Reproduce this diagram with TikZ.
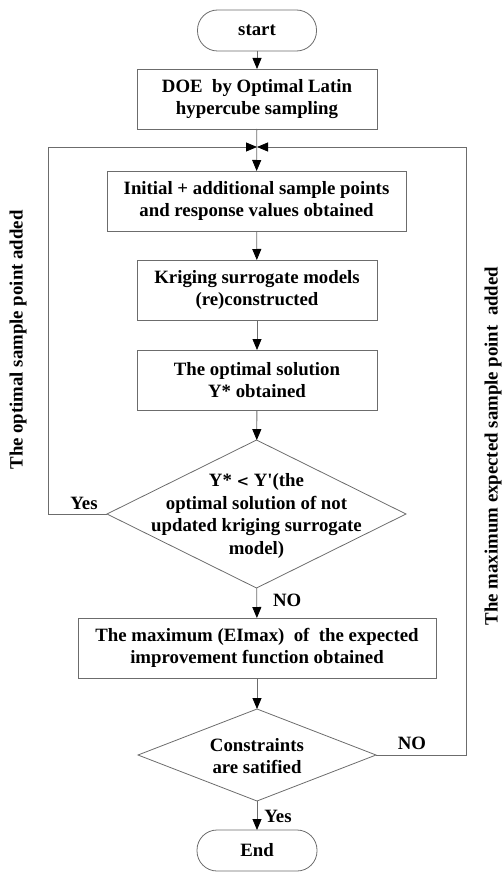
\documentclass[tikz,border=0pt]{standalone}
\usepackage{fontspec}
\setmainfont{Liberation Serif}
\usetikzlibrary{shapes.geometric,arrows.meta}
\tikzset{
  every node/.style={font=\bfseries\fontsize{18.8}{22.5}\selectfont, inner sep=0pt, outer sep=0pt},
  boxnode/.style={draw=gray!85!black, line width=0.8pt, rectangle, align=center},
  termnode/.style={draw=gray!85!black, line width=0.8pt, rectangle, rounded corners=20pt, align=center},
  decnode/.style={draw=gray!85!black, line width=0.8pt, diamond},
  txt/.style={align=center},
  arr/.style={draw=gray!85!black, line width=0.8pt, -{Triangle[length=11pt,width=9pt,color=black]}},
  ln/.style={draw=gray!85!black, line width=0.8pt}
}
\begin{document}
\begin{tikzpicture}[x=1pt,y=-1pt]
\useasboundingbox (0,0) rectangle (501,872);
\node[termnode, minimum width=119pt, minimum height=41pt] (start) at (257,30.5) {start};
\node[boxnode, minimum width=240pt, minimum height=60pt] (doe) at (257,99) {DOE\ \ by Optimal Latin\\ hypercube sampling};
\node[boxnode, minimum width=299pt, minimum height=60pt] (init) at (256.5,201) {Initial + additional sample points\\and response values obtained};
\node[boxnode, minimum width=240pt, minimum height=60pt] (krig) at (257,290) {Kriging surrogate models\\(re)constructed};
\node[boxnode, minimum width=240pt, minimum height=60pt] (opt) at (257,380) {The optimal solution\\Y* obtained};
\node[decnode, minimum width=299pt, minimum height=148pt] (d1) at (256.5,514) {};
\node[txt] (d1t) at (256.5,516) {Y* {\fontspec{DejaVu Serif}\bfseries\fontsize{15}{22.5}\selectfont <} Y\textquotesingle(the\\optimal solution of not\\updated kriging surrogate\\model)};
\node[boxnode, minimum width=358pt, minimum height=60pt] (ei) at (257,648) {The maximum (EImax)\ \ of\ \ the expected\\improvement function obtained};
\node[decnode, minimum width=238pt, minimum height=92pt] (d2) at (257,755) {};
\node[txt] (d2t) at (257,756) {Constraints\\are satified};
\node[termnode, minimum width=120pt, minimum height=41pt] (end) at (257,850.5) {End};

\coordinate (m) at (257,147);

\draw[arr] (start) -- (doe);
\draw[arr] (doe) -- (init);
\draw[arr] (init) -- (krig);
\draw[arr] (krig) -- (opt);
\draw[arr] (opt) -- (d1);
\draw[arr] (d1) -- (ei);
\draw[arr] (ei) -- (d2);
\draw[arr] (d2) -- (end);
\draw[arr] (d1.west) -- ++(-59,0) |- (m);
\draw[arr] (d2.east) -- ++(90,0) |- (m);

\node (yes1) at (84,503) {Yes};
\node[anchor=west] (no1) at (273,600) {NO};
\node (no2) at (412,743) {NO};
\node (yes2) at (278,816) {Yes};

\node[rotate=90] (lbl) at (18,340) {The optimal sample point added};
\node[rotate=90] (rbl) at (493,446) {The maximum expected sample point\ \ added};
\end{tikzpicture}
\end{document}
